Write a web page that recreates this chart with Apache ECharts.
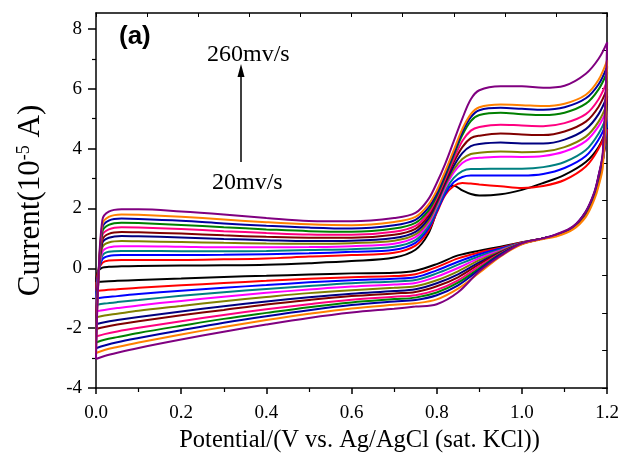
<!DOCTYPE html>
<html><head><meta charset="utf-8">
<script src="https://cdn.jsdelivr.net/npm/echarts@6/dist/echarts.min.js"></script>
<style>html,body{margin:0;padding:0;background:#fff}#c{width:622px;height:458px}</style>
</head><body><div id="c"></div>
<script>
// Potential grids (V): forward (upper) sweep and reverse (lower) sweep
const xUp = [0, 0.005, 0.015, 0.03, 0.06, 0.1, 0.2, 0.3, 0.4, 0.5, 0.6, 0.7, 0.75, 0.78, 0.8, 0.82, 0.84, 0.86, 0.88, 0.9, 0.95, 1.0, 1.05, 1.1, 1.15, 1.18, 1.2];
const xDown = [1.19, 1.18, 1.17, 1.15, 1.12, 1.08, 1.05, 1.0, 0.95, 0.9, 0.85, 0.8, 0.75, 0.7, 0.6, 0.5, 0.4, 0.3, 0.2, 0.1, 0.05, 0.02, 0];

const scanRates = ['20mv/s','40mv/s','60mv/s','80mv/s','100mv/s','120mv/s','140mv/s','160mv/s','180mv/s','200mv/s','220mv/s','240mv/s','260mv/s'];

// Current (10^-5 A)
const up20  = [-0.46,-0.1,0.02,0.05,0.07,0.08,0.09,0.1,0.12,0.17,0.24,0.36,0.62,1.15,1.9,2.6,2.76,2.6,2.48,2.43,2.47,2.62,2.85,3.12,3.55,4.05,4.7];
const up40  = [-0.76,-0.1,0.18,0.26,0.28,0.28,0.28,0.3,0.33,0.39,0.44,0.52,0.76,1.24,1.85,2.45,2.75,2.85,2.83,2.8,2.74,2.68,2.75,2.95,3.4,4.0,4.65];
const up60  = [-1.01,-0.2,0.3,0.41,0.44,0.44,0.44,0.45,0.47,0.5,0.55,0.62,0.85,1.32,1.9,2.5,2.88,3.05,3.1,3.1,3.1,3.1,3.15,3.35,3.75,4.3,4.9];
const up80  = [-1.23,-0.25,0.42,0.55,0.58,0.58,0.57,0.57,0.58,0.61,0.64,0.72,0.94,1.4,1.98,2.6,3.02,3.25,3.32,3.32,3.33,3.33,3.38,3.55,3.95,4.5,5.1];
const up100 = [-1.44,-0.3,0.55,0.7,0.74,0.74,0.72,0.7,0.7,0.71,0.74,0.82,1.04,1.49,2.06,2.7,3.2,3.52,3.66,3.69,3.73,3.72,3.75,3.9,4.25,4.75,5.3];
const up120 = [-1.64,-0.35,0.7,0.86,0.91,0.9,0.88,0.85,0.83,0.82,0.84,0.92,1.13,1.57,2.13,2.78,3.3,3.65,3.82,3.86,3.9,3.88,3.9,4.05,4.4,4.9,5.5];
const up140 = [-1.87,-0.4,0.85,1.02,1.08,1.07,1.03,0.98,0.94,0.91,0.92,1.01,1.22,1.65,2.2,2.85,3.42,3.85,4.08,4.15,4.2,4.17,4.17,4.3,4.65,5.15,5.75];
const up160 = [-2.03,-0.4,0.95,1.15,1.21,1.2,1.16,1.1,1.05,1.02,1.02,1.12,1.32,1.74,2.27,2.92,3.55,4.05,4.35,4.43,4.5,4.47,4.45,4.57,4.9,5.4,6.0];
const up180 = [-2.28,-0.45,1.1,1.3,1.37,1.36,1.31,1.24,1.18,1.13,1.12,1.22,1.42,1.83,2.35,3.0,3.65,4.25,4.6,4.72,4.8,4.77,4.75,4.85,5.15,5.65,6.25];
const up200 = [-2.48,-0.5,1.22,1.45,1.52,1.51,1.45,1.37,1.3,1.24,1.22,1.33,1.52,1.92,2.42,3.08,3.78,4.45,4.92,5.12,5.2,5.15,5.12,5.2,5.5,5.98,6.55];
const up220 = [-2.67,-0.55,1.35,1.59,1.66,1.65,1.59,1.5,1.42,1.36,1.33,1.44,1.62,2.02,2.5,3.15,3.85,4.55,5.05,5.28,5.36,5.33,5.3,5.38,5.68,6.15,6.75];
const up240 = [-2.83,-0.6,1.47,1.72,1.8,1.79,1.72,1.63,1.54,1.47,1.44,1.55,1.72,2.12,2.6,3.25,3.95,4.65,5.15,5.38,5.47,5.45,5.42,5.5,5.8,6.3,6.95];
const up260 = [-3.03,-0.6,1.62,1.89,1.97,1.97,1.9,1.8,1.68,1.58,1.57,1.68,1.85,2.3,2.85,3.5,4.25,5.0,5.65,5.95,6.08,6.08,6.03,6.1,6.5,7.0,7.55];

const dn20  = [3.6,2.9,2.4,1.8,1.35,1.1,1.0,0.87,0.72,0.59,0.43,0.14,-0.08,-0.15,-0.17,-0.21,-0.25,-0.29,-0.34,-0.39,-0.42,-0.44,-0.46];
const dn40  = [3.6,2.9,2.4,1.8,1.35,1.1,1.0,0.86,0.69,0.53,0.33,0.04,-0.2,-0.26,-0.3,-0.35,-0.42,-0.49,-0.57,-0.65,-0.7,-0.73,-0.76];
const dn60  = [3.6,2.9,2.4,1.8,1.35,1.1,1.0,0.85,0.66,0.47,0.22,-0.07,-0.3,-0.35,-0.4,-0.47,-0.56,-0.65,-0.75,-0.86,-0.93,-0.97,-1.01];
const dn80  = [3.6,2.9,2.4,1.8,1.35,1.1,1.0,0.85,0.63,0.4,0.12,-0.17,-0.39,-0.44,-0.5,-0.59,-0.69,-0.8,-0.92,-1.06,-1.13,-1.18,-1.23];
const dn100 = [3.65,2.95,2.42,1.82,1.36,1.1,1.0,0.84,0.6,0.34,0.01,-0.28,-0.49,-0.54,-0.61,-0.71,-0.82,-0.95,-1.09,-1.24,-1.33,-1.39,-1.44];
const dn120 = [3.65,2.95,2.42,1.82,1.36,1.1,1.0,0.84,0.57,0.27,-0.1,-0.4,-0.6,-0.65,-0.73,-0.83,-0.96,-1.1,-1.26,-1.42,-1.52,-1.58,-1.64];
const dn140 = [3.7,3.0,2.45,1.85,1.37,1.1,1.0,0.83,0.54,0.2,-0.2,-0.5,-0.7,-0.76,-0.85,-0.97,-1.11,-1.27,-1.44,-1.63,-1.73,-1.8,-1.87];
const dn160 = [3.7,3.0,2.45,1.85,1.37,1.1,1.0,0.83,0.52,0.14,-0.3,-0.6,-0.79,-0.84,-0.93,-1.06,-1.21,-1.39,-1.57,-1.77,-1.88,-1.96,-2.03];
const dn180 = [3.75,3.05,2.5,1.87,1.38,1.11,1.0,0.82,0.5,0.07,-0.4,-0.72,-0.9,-0.95,-1.05,-1.2,-1.37,-1.56,-1.77,-1.99,-2.11,-2.2,-2.28];
const dn200 = [3.8,3.05,2.5,1.87,1.38,1.11,1.0,0.82,0.48,0.0,-0.48,-0.81,-0.98,-1.03,-1.14,-1.3,-1.49,-1.69,-1.92,-2.16,-2.3,-2.39,-2.48];
const dn220 = [3.8,3.1,2.52,1.9,1.39,1.12,1.0,0.82,0.46,-0.05,-0.57,-0.9,-1.06,-1.11,-1.23,-1.4,-1.6,-1.82,-2.07,-2.33,-2.47,-2.58,-2.67];
const dn240 = [3.4,2.75,2.3,1.72,1.3,1.06,0.98,0.8,0.4,-0.15,-0.68,-1.04,-1.17,-1.22,-1.34,-1.52,-1.73,-1.96,-2.21,-2.48,-2.63,-2.73,-2.83];
const dn260 = [3.9,3.1,2.55,1.9,1.4,1.13,1.0,0.83,0.42,-0.1,-0.8,-1.2,-1.28,-1.35,-1.48,-1.66,-1.88,-2.12,-2.38,-2.66,-2.82,-2.93,-3.03];

const upper = [up20,up40,up60,up80,up100,up120,up140,up160,up180,up200,up220,up240,up260];
const lower = [dn20,dn40,dn60,dn80,dn100,dn120,dn140,dn160,dn180,dn200,dn220,dn240,dn260];
const colors = ['#000000','#ff0000','#0000ff','#008080','#ff00ff','#808000','#000080','#800000','#ff0080','#008000','#0000a0','#ff8000','#800080'];

const yTicks = [-4,-2,0,2,4,6,8];
const yMinorTicks = [-3,-1,1,3,5,7];

const serif = '"Liberation Serif","DejaVu Serif",serif';

const series = scanRates.map((name, i) => {
  const pts = [];
  xUp.forEach((x, k) => pts.push([x, upper[i][k]]));
  xDown.forEach((x, k) => pts.push([x, lower[i][k]]));
  return {
    name, type: 'line', xAxisIndex: 0, yAxisIndex: 0,
    data: pts, showSymbol: false, smooth: 0.35,
    lineStyle: { color: colors[i], width: 2 }, itemStyle: { color: colors[i] },
    silent: true, animation: false, z: 2 + i
  };
});

const chart = echarts.init(document.getElementById('c'), null, { renderer: 'canvas' });
chart.setOption({
  animation: false,
  backgroundColor: '#ffffff',
  grid: { left: 96, right: 12, top: 13, bottom: 68, containLabel: false },
  xAxis: [
    {
      type: 'value', min: 0, max: 1.2, interval: 0.2, position: 'bottom',
      axisLine: { show: true, onZero: false, lineStyle: { color: '#000', width: 1.5 } },
      axisTick: { show: true, inside: false, length: 6, lineStyle: { color: '#000', width: 1.5 } },
      minorTick: { show: true, splitNumber: 2, length: 4, lineStyle: { color: '#000', width: 1.2 } },
      splitLine: { show: false },
      axisLabel: { formatter: v => v.toFixed(1), fontFamily: serif, fontSize: 19, color: '#000', margin: 16 },
      name: 'Potential/(V vs. Ag/AgCl (sat. KCl))', nameLocation: 'middle', nameGap: 40,
      nameTextStyle: { fontFamily: serif, fontSize: 24.5, color: '#000', padding: [0, 0, 0, 16] }
    },
    {
      type: 'value', min: 0, max: 10, interval: 1, position: 'top',
      axisLine: { show: true, onZero: false, lineStyle: { color: '#000', width: 1.5 } },
      axisTick: { show: true, inside: true, length: 4, lineStyle: { color: '#000', width: 1 } },
      axisLabel: { show: false }, splitLine: { show: false }
    }
  ],
  yAxis: [
    {
      type: 'value', min: -4, max: 8.53, position: 'left',
      axisLine: { show: true, onZero: false, lineStyle: { color: '#000', width: 1.5 } },
      axisTick: { show: true, inside: false, length: 8, customValues: yTicks, lineStyle: { color: '#000', width: 1.5 } },
      splitLine: { show: false },
      axisLabel: { customValues: yTicks, fontFamily: serif, fontSize: 19, color: '#000', margin: 14 },
      name: 'Current(10{sup|-5} A)', nameLocation: 'middle', nameGap: 50, nameRotate: 90,
      nameTextStyle: { fontFamily: serif, fontSize: 31, color: '#000',
        rich: { sup: { fontFamily: serif, fontSize: 18, color: '#000', padding: [0, 0, 13, 0] } } }
    },
    {
      type: 'value', min: 0, max: 10, interval: 1, position: 'right',
      axisLine: { show: true, onZero: false, lineStyle: { color: '#000', width: 1.5 } },
      axisTick: { show: true, inside: true, length: 5, lineStyle: { color: '#000', width: 1 } },
      axisLabel: { show: false }, splitLine: { show: false }
    },
    {
      type: 'value', min: -4, max: 8.53, position: 'left',
      axisLine: { show: false },
      axisTick: { show: true, inside: false, length: 4, customValues: yMinorTicks, lineStyle: { color: '#000', width: 1.2 } },
      axisLabel: { show: false }, splitLine: { show: false }
    }
  ],
  graphic: [
    { type: 'text', left: 119, top: 24, style: { text: '(a)', font: 'bold 26px "Liberation Sans", Arial, sans-serif', fill: '#000' } },
    { type: 'text', left: 207, top: 43, style: { text: '260mv/s', font: '24px "Liberation Serif", serif', fill: '#000' } },
    { type: 'text', left: 212, top: 171, style: { text: '20mv/s', font: '24px "Liberation Serif", serif', fill: '#000' } },
    { type: 'line', shape: { x1: 241, y1: 162, x2: 241, y2: 74 }, style: { stroke: '#000', lineWidth: 1.5 } },
    { type: 'polygon', shape: { points: [[241, 64], [237.5, 77], [244.5, 77]] }, style: { fill: '#000' } }
  ],
  series
});
</script></body></html>
